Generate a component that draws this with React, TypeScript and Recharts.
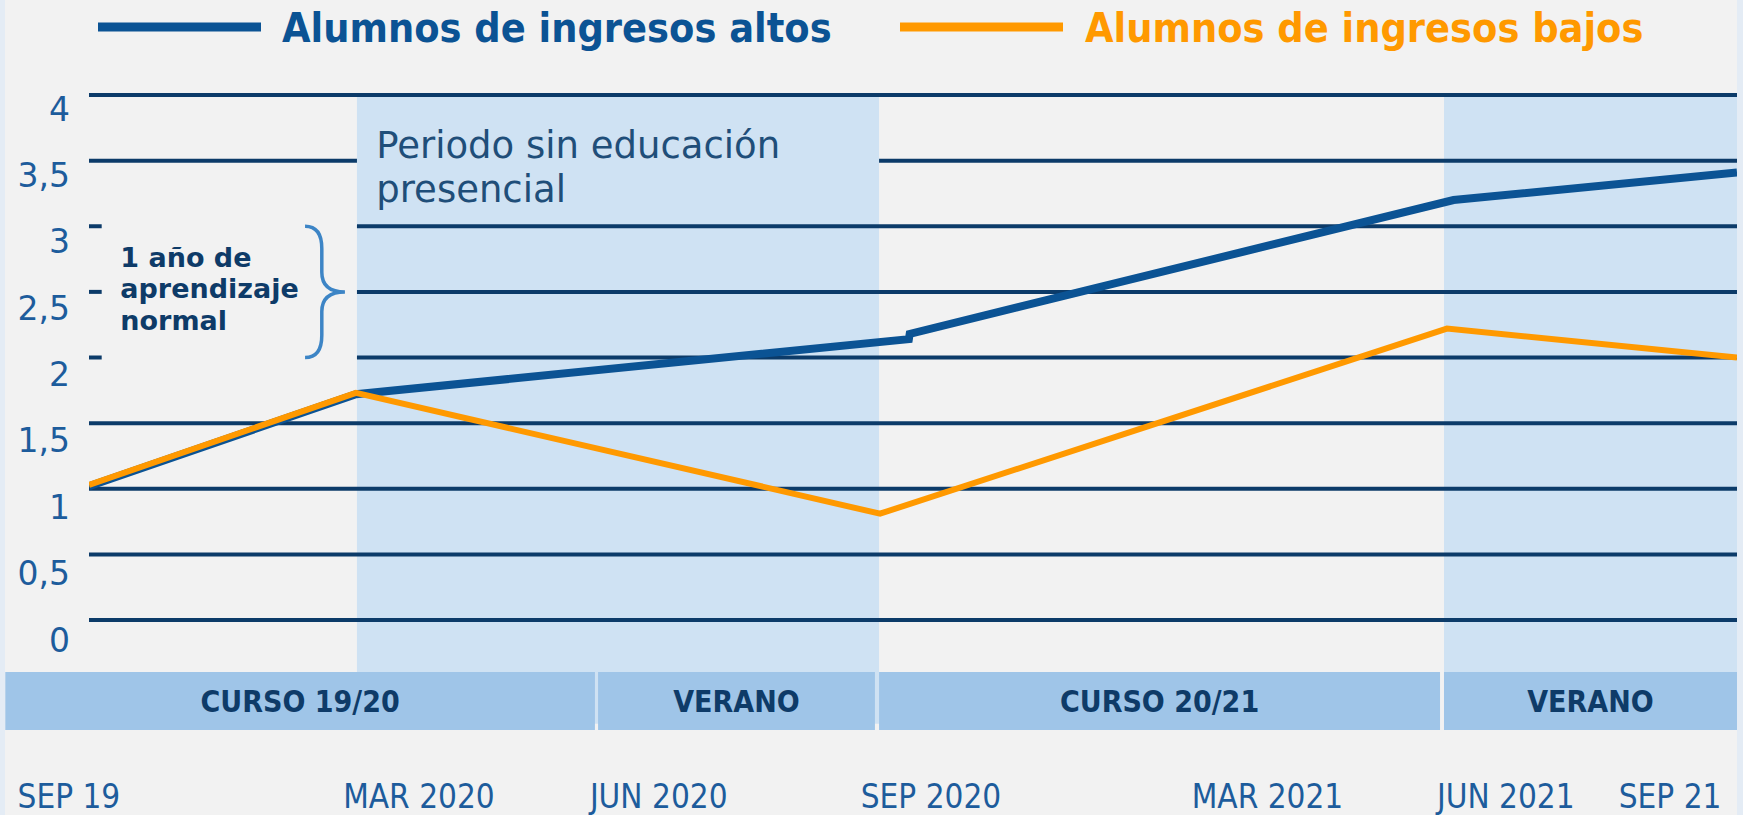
import React from 'react';
import { LineChart, Line, XAxis, YAxis, ReferenceArea, ReferenceLine, Legend } from 'recharts';

// Schematic timeline: 0 = SEP 19, 100 = SEP 21 (units of the x axis)
const seriesNames = ['Alumnos de ingresos altos', 'Alumnos de ingresos bajos'];
const highIncomeX = [0, 16.2, 49.75, 49.8, 82.8, 100];
const highIncomeY = [1.02, 1.72, 2.14, 2.18, 3.2, 3.41];
const lowIncomeX = [0, 16.2, 48.0, 82.4, 100];
const lowIncomeY = [1.03, 1.73, 0.81, 2.22, 2.0];

const yTicks = [0, 0.5, 1, 1.5, 2, 2.5, 3, 3.5, 4];
const xTickLabels = ['SEP 19', 'MAR 2020', 'JUN 2020', 'SEP 2020', 'MAR 2021', 'JUN 2021', 'SEP 21'];
const xTickPositions = [-1.22, 20.02, 34.57, 51.09, 71.51, 85.97, 95.94];

const periodLabels = ['CURSO 19/20', 'VERANO', 'CURSO 20/21', 'VERANO'];
const periodStart = [-5.08, 30.89, 47.94, 82.22];
const periodEnd = [30.7, 47.69, 81.98, 100];

const closedStart = [16.26, 82.22];
const closedEnd = [47.94, 100];

const annotationTitle = ['Periodo sin educación', 'presencial'];
const annotationYear = ['1 año de', 'aprendizaje', 'normal'];

const highData = highIncomeX.map((x, i) => ({ x, y: highIncomeY[i] }));
const lowData = lowIncomeX.map((x, i) => ({ x, y: lowIncomeY[i] }));

const REG = "'DejaVu Sans', Verdana, sans-serif";
const COND = "'DejaVu Sans Condensed', 'DejaVu Sans', sans-serif";
const GRID = '#0C3B69';
const SHADE = '#CFE2F3';
const BAR = '#9FC5E8';
const NAVY = '#0E3B68';
const AXIS_TXT = '#1D5C9C';
const BLUE = '#0B5394';
const ORANGE = '#FF9900';

const YTick = (props: any) => {
  const { x, y, payload } = props;
  const v = payload.value as number;
  return (
    <text x={x - 19} y={y + 20 - 1.5 * v} textAnchor="end" dominantBaseline="central"
      fill={AXIS_TXT} fontSize={33} fontFamily={REG}>
      {String(v).replace('.', ',')}
    </text>
  );
};

const XTick = (props: any) => {
  const { x, y, payload } = props;
  const idx = xTickPositions.indexOf(payload.value);
  return (
    <text x={x} y={y + 176} textAnchor="middle" dominantBaseline="central"
      fill={AXIS_TXT} fontSize={33} fontFamily={COND} style={{ fontStretch: 'condensed' }}>
      {idx >= 0 ? xTickLabels[idx] : ''}
    </text>
  );
};

const legendLayout = [{ lineX: 98, textX: 282 }, { lineX: 900, textX: 1085 }];
const renderLegend = (props: any) => {
  const payload = props.payload || [];
  return (
    <svg width={1743} height={60} style={{ display: 'block' }}>
      {payload.map((e: any, i: number) => (
        <g key={i}>
          <line x1={legendLayout[i].lineX} x2={legendLayout[i].lineX + 163} y1={27} y2={27}
            stroke={e.color} strokeWidth={9} />
          <text x={legendLayout[i].textX} y={41.5} fill={e.color} fontSize={41} fontWeight={700}
            fontFamily={COND} style={{ fontStretch: 'condensed' }}>
            {e.value}
          </text>
        </g>
      ))}
    </svg>
  );
};

const gridSegments = (v: number): [number, number][] => {
  if (v === 3.5) return [[0, closedStart[0]], [closedEnd[0], 100]];
  if (v === 3 || v === 2.5 || v === 2) return [[0, 0.77], [closedStart[0], 100]];
  return [[0, 100]];
};

const TitleShape = (p: any) => (
  <g>
    {annotationTitle.map((t, i) => (
      <text key={i} x={p.x} y={p.y + 37 + i * 44} fill="#1F4E79" fontSize={37} fontFamily={REG}>{t}</text>
    ))}
  </g>
);

const YearShape = (p: any) => (
  <g>
    {annotationYear.map((t, i) => (
      <text key={i} x={p.x} y={p.y + 40.5 + i * 31.7} fill={NAVY} fontSize={27} fontWeight={700} fontFamily={REG}>{t}</text>
    ))}
  </g>
);

const BraceShape = (p: any) => {
  const x0 = p.x, x1 = p.x + p.width, y0 = p.y, y1 = p.y + p.height;
  const xm = x0 + 0.42 * p.width;
  const ym = (y0 + y1) / 2;
  const h = p.height;
  const d = `M${x0},${y0} Q${xm},${y0} ${xm},${y0 + 0.17 * h} L${xm},${ym - 0.15 * h} Q${xm},${ym} ${x1},${ym} Q${xm},${ym} ${xm},${ym + 0.15 * h} L${xm},${y1 - 0.17 * h} Q${xm},${y1} ${x0},${y1}`;
  return <path d={d} fill="none" stroke="#3D85C6" strokeWidth={3.5} />;
};

export default function App() {
  return (
    <div style={{ position: 'absolute', left: 0, top: 0, width: 1743, height: 815, background: '#E4ECF5', overflow: 'hidden' }}>
      <div style={{ position: 'absolute', left: 5, top: 0, width: 1732, height: 815, background: '#F2F2F2' }} />
      <LineChart width={1743} height={815} margin={{ top: 95, right: 6, bottom: 165, left: 0 }}>
        <XAxis dataKey="x" type="number" domain={[0, 100]} ticks={xTickPositions} interval={0}
          tick={<XTick />} axisLine={false} tickLine={false} tickSize={0} tickMargin={0} height={30} allowDataOverflow />
        <YAxis type="number" domain={[0, 4]} ticks={yTicks} interval={0} width={89}
          tick={<YTick />} axisLine={false} tickLine={false} tickSize={0} tickMargin={0} allowDataOverflow />
        <Legend content={renderLegend} layout="horizontal" verticalAlign="middle" align="center"
          wrapperStyle={{ top: 0, left: 0, width: 1743, height: 60 }} />

        {closedStart.map((s, i) => (
          <ReferenceArea key={`sh${i}`} x1={s} x2={closedEnd[i]} y1={-0.79} y2={4}
            fill={SHADE} fillOpacity={1} stroke="none" ifOverflow="visible" />
        ))}

        {periodLabels.map((lab, i) => (
          <ReferenceArea key={`p${i}`} x1={periodStart[i]} x2={periodEnd[i]} y1={-0.838} y2={-0.396}
            fill={BAR} fillOpacity={1} stroke="none" ifOverflow="visible"
            label={{ value: lab, position: 'center', fill: NAVY, fontSize: 30, fontWeight: 700, fontFamily: COND, style: { fontStretch: 'condensed' } }} />
        ))}

        {yTicks.map((v) =>
          gridSegments(v).map((seg, j) => (
            <ReferenceLine key={`g${v}-${j}`} segment={[{ x: seg[0], y: v }, { x: seg[1], y: v }]}
              stroke={GRID} strokeWidth={4} ifOverflow="visible" />
          ))
        )}

        <ReferenceArea x1={17.43} x2={47} y1={3.2} y2={3.8} ifOverflow="visible" shape={<TitleShape />} />
        <ReferenceArea x1={1.9} x2={12.5} y1={2} y2={3} ifOverflow="visible" shape={<YearShape />} />
        <ReferenceArea x1={13.11} x2={15.53} y1={2} y2={3} ifOverflow="visible" shape={<BraceShape />} />

        <Line data={highData} dataKey="y" name={seriesNames[0]} type="linear" stroke={BLUE}
          strokeWidth={8} dot={false} activeDot={false} isAnimationActive={false} />
        <Line data={lowData} dataKey="y" name={seriesNames[1]} type="linear" stroke={ORANGE}
          strokeWidth={6} dot={false} activeDot={false} isAnimationActive={false} />
      </LineChart>
    </div>
  );
}
